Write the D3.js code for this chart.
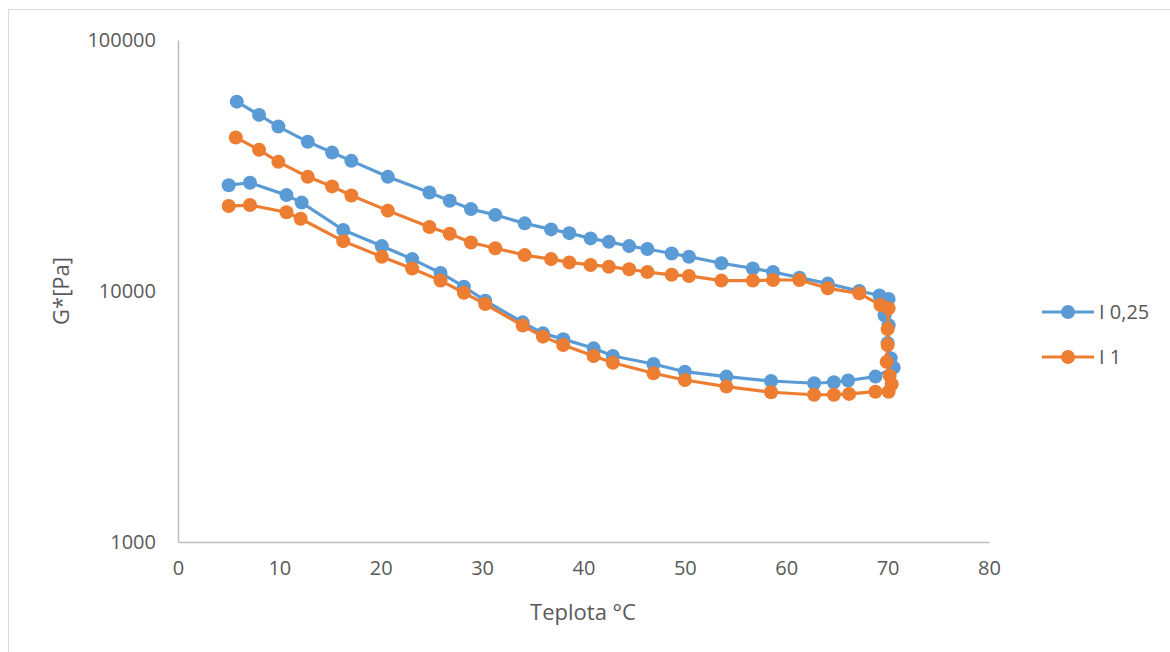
<!DOCTYPE html>
<html>
<head>
<meta charset="utf-8">
<script src="https://cdn.jsdelivr.net/npm/d3@7"></script>
<style>
  html, body { margin: 0; padding: 0; background: #fff; }
  svg { display: block; }
  text { font-family: "Open Sans", "Liberation Sans", sans-serif; fill: #595959; }
</style>
</head>
<body>
<svg id="chart" width="1170" height="652"></svg>
<script>
// ---- data ----
const seriesNames = ["I 0,25", "I 1"];
const seriesColors = ["#5B9BD5", "#ED7D31"];

const tempI025 = [5.8, 8.0, 9.9, 12.8, 15.2, 17.1, 20.7, 24.8, 26.8, 28.9, 31.3, 34.2, 36.8, 38.6, 40.7, 42.5, 44.5, 46.3, 48.7, 50.4, 53.6, 56.7, 58.7, 61.3, 64.1, 67.2, 69.2, 70.1, 69.7, 70.1, 70.0, 70.3, 70.6,
  68.8, 66.1, 64.7, 62.75, 58.5, 54.1, 50.0, 46.9, 42.9, 41.0, 38.0, 36.0, 34.0, 30.3, 28.2, 25.9, 23.1, 20.1, 16.3, 12.2, 10.7, 7.1, 5.0];
const gI025 = [56800, 50300, 45200, 39300, 35600, 33000, 28500, 24700, 22900, 21200, 20100, 18600, 17600, 17000, 16200, 15700, 15100, 14700, 14100, 13700, 12900, 12300, 11900, 11300, 10700, 10000, 9600, 9300, 8000, 7300, 6200, 5400, 4950,
  4560, 4400, 4330, 4290, 4380, 4560, 4770, 5120, 5510, 5910, 6430, 6780, 7500, 9150, 10400, 11800, 13400, 15100, 17500, 22500, 24100, 27000, 26400];

const tempI1 = [5.7, 8.0, 9.9, 12.8, 15.2, 17.1, 20.7, 24.8, 26.8, 28.9, 31.3, 34.2, 36.8, 38.6, 40.7, 42.5, 44.5, 46.3, 48.7, 50.4, 53.6, 56.7, 58.7, 61.3, 64.1, 67.2, 69.3, 70.1, 70.0, 70.0, 69.9, 70.2, 70.4, 70.1,
  68.8, 66.2, 64.7, 62.75, 58.5, 54.1, 50.0, 46.9, 42.9, 41.0, 38.0, 36.0, 34.0, 30.3, 28.2, 25.9, 23.1, 20.1, 16.3, 12.1, 10.7, 7.1, 5.0];
const gI1 = [40900, 36500, 32700, 28500, 26100, 24000, 20900, 18000, 16900, 15600, 14800, 13900, 13400, 13000, 12700, 12500, 12200, 11900, 11600, 11480, 11000, 11000, 11060, 11060, 10250, 9790, 8790, 8530, 7050, 6090, 5220, 4600, 4250, 3970,
  3970, 3890, 3860, 3860, 3950, 4160, 4420, 4700, 5180, 5510, 6090, 6580, 7280, 8870, 9840, 11000, 12300, 13700, 15800, 19400, 20600, 22000, 21800];

const xTicks = [0, 10, 20, 30, 40, 50, 60, 70, 80];
const yTicks = [1000, 10000, 100000];
const xTitle = "Teplota °C";
const yTitle = "G*[Pa]";

// ---- drawing ----
const svg = d3.select("#chart");
const W = 1170, H = 652;

svg.append("rect").attr("x", 8.5).attr("y", 9.5).attr("width", W).attr("height", H)
  .attr("fill", "#fff").attr("stroke", "#d9d9d9").attr("stroke-width", 1);

const x = d3.scaleLinear().domain([0, 80]).range([178, 989]);
const y = d3.scaleLog().domain([1000, 100000]).range([542, 40]);

// axes lines
const gx = svg.append("g").attr("transform", "translate(0,542)")
  .call(d3.axisBottom(x).tickValues(xTicks).tickSize(0).tickPadding(19).tickFormat(d3.format("d")));
gx.select(".domain").attr("stroke", "#bfbfbf").attr("stroke-width", 1.5);
gx.selectAll("text").attr("font-size", 20).attr("fill", "#595959")
  .attr("font-family", "'Open Sans', sans-serif");

const gy = svg.append("g").attr("transform", "translate(178,0)")
  .call(d3.axisLeft(y).tickValues(yTicks).tickSize(0).tickPadding(22).tickFormat(d3.format("d")));
gy.select(".domain").attr("stroke", "#bfbfbf").attr("stroke-width", 1.5);
gy.selectAll("text").attr("font-size", 20).attr("fill", "#595959")
  .attr("font-family", "'Open Sans', sans-serif");

// titles
svg.append("text").attr("x", 583).attr("y", 620).attr("text-anchor", "middle")
  .attr("font-size", 22).text(xTitle);
svg.append("text").attr("transform", "translate(69,291) rotate(-90)")
  .attr("text-anchor", "middle").attr("font-size", 22).text(yTitle);

// series
const series = [
  { name: seriesNames[0], color: seriesColors[0], t: tempI025, g: gI025 },
  { name: seriesNames[1], color: seriesColors[1], t: tempI1, g: gI1 }
];

const line = d3.line().x(d => x(d[0])).y(d => y(d[1]));

series.forEach(s => {
  const pts = s.t.map((t, i) => [t, s.g[i]]);
  const g = svg.append("g");
  g.append("path").datum(pts).attr("d", line)
    .attr("fill", "none").attr("stroke", s.color).attr("stroke-width", 3.2)
    .attr("stroke-linejoin", "round");
  g.selectAll("circle").data(pts).join("circle")
    .attr("cx", d => x(d[0])).attr("cy", d => y(d[1])).attr("r", 7)
    .attr("fill", s.color);
});

// legend
const leg = svg.append("g");
series.forEach((s, i) => {
  const ly = 312 + i * 45;
  leg.append("line").attr("x1", 1042).attr("x2", 1094).attr("y1", ly).attr("y2", ly)
    .attr("stroke", s.color).attr("stroke-width", 3.2);
  leg.append("circle").attr("cx", 1068).attr("cy", ly).attr("r", 7).attr("fill", s.color);
  leg.append("text").attr("x", 1099).attr("y", ly).attr("dy", "0.35em")
    .attr("font-size", 20).text(s.name);
});
</script>
</body>
</html>
